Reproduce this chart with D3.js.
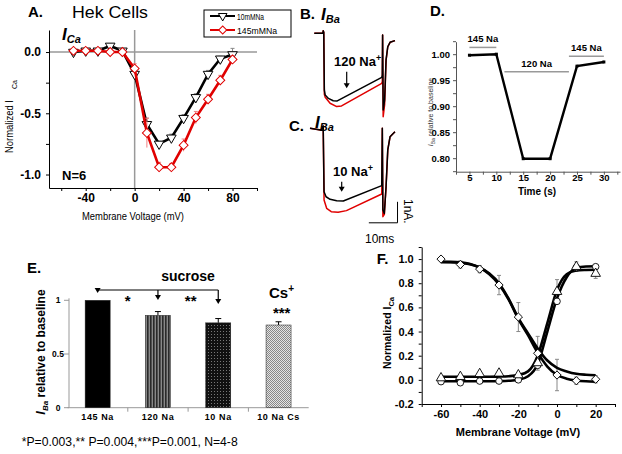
<!DOCTYPE html>
<html><head><meta charset="utf-8">
<script src="https://cdn.jsdelivr.net/npm/d3@7"></script>
<style>body{margin:0;background:#fff}svg{display:block}text{font-family:"Liberation Sans",Arial,sans-serif}</style>
</head><body>
<script>
// ---------- DATA ----------
// Panel A: I-V relationship
const voltsA = [-50,-40,-30,-20,-10,0,10,20,30,40,50,60,70,80];
const na10  = [0.0,0.01,0.01,0.05,0.01,-0.18,-0.59,-0.75,-0.70,-0.54,-0.37,-0.18,-0.055,-0.02];
const na10Err = [0.01,0.01,0.01,0.01,0.01,0.04,0.05,0.02,0.03,0.03,0.03,0.03,0.02,0.05];
const na145 = [0.01,0.01,0.01,0.0,0.0,-0.135,-0.66,-0.94,-0.94,-0.76,-0.535,-0.385,-0.23,-0.06];
const na145Err = [0.01,0.01,0.01,0.01,0.01,0.04,0.12,0.04,0.03,0.05,0.05,0.04,0.04,0.03];
const legendA = ["10mMNa","145mMNa"];
const ticksAx = [-60,-40,-20,0,20,40,60,80,100];
const labelsAx = [-40,0,40,80];
const ticksAy = [-1,-0.75,-0.5,-0.25,0];

// Panels B, C: current traces [time ms, current nA]
const traceB_10 = [[0,0],[3.0,0],[3.1,0.12],[3.3,0.05],[3.5,-2.7],[3.8,-2.94],[4.9,-3.1],[6.6,-3.21],[8.0,-3.22],[23.5,-2.1],[23.7,-2.0],[23.8,-0.08],[24.0,-3.65],[24.5,-3.18],[25.0,-1.27],[25.6,-0.64],[26.4,-0.43],[28.1,-0.35]];
const traceB_145 = [[0,0],[3.0,0],[3.1,0.12],[3.3,0.05],[3.5,-2.9],[3.8,-3.05],[5.5,-3.33],[7.8,-3.49],[9.5,-3.46],[23.5,-2.38],[23.7,-2.3],[23.8,-0.08],[24.0,-3.97],[24.5,-3.4],[25.0,-1.3],[25.6,-0.64],[26.4,-0.43],[28.1,-0.35]];
const traceC_10 = [[-1.5,0],[2.2,-0.08],[2.9,0],[3.1,0.11],[3.4,-3.02],[4.1,-3.26],[5.5,-3.38],[7.8,-3.45],[10.1,-3.46],[23.5,-2.73],[23.7,0],[23.9,-3.89],[24.4,-4.05],[25.0,-2.78],[25.6,-1.03],[26.4,-0.4],[28.1,-0.16]];
const traceC_145 = [[-1.5,0],[2.2,-0.08],[2.9,0],[3.1,0.11],[3.4,-3.41],[4.3,-3.81],[5.9,-3.97],[8.3,-4.0],[11.2,-3.92],[23.5,-3.13],[23.7,0],[23.9,-4.21],[24.4,-4.1],[25.0,-2.8],[25.6,-1.03],[26.4,-0.4],[28.1,-0.16]];
const scaleBarMs = 10, scaleBarNA = 1;

// Panel D: time course
const timeD = [5,10,15,20,25,30];
const relD = [0.998,1.000,0.799,0.799,0.977,0.985];
const ticksDx = [5,10,15,20,25,30];
const ticksDy = [0.80,0.85,0.90,0.95,1.00];
const annotD = [{t:"145 Na",a:5,b:10,v:1.013},{t:"120 Na",a:11.5,b:23.5,v:0.966},{t:"145 Na",a:23.5,b:30,v:0.996}];

// Panel E: bars
const catsE = ["145 Na","120 Na","10 Na","10 Na Cs"];
const valsE = [1.0,0.86,0.79,0.77];
const errE = [0,0.035,0.04,0.03];
const ticksEy = [0,0.5,1];

// Panel F: activation / inactivation
const voltsF = [-60,-50,-40,-30,-20,-10,0,10,20];
const inactPts = [1.0,0.955,0.917,0.785,0.52,0.22,0.04,-0.007,0.005];
const inactErr = [0.01,0.03,0.03,0.08,0.12,0.14,0.13,0.03,0.03];
const actTri = [0.015,0.026,0.05,0.054,0.04,0.14,0.73,0.937,0.88];
const actTriErr = [0.01,0.01,0.01,0.01,0.01,0.03,0.1,0.04,0.04];
const actCir = [-0.015,-0.024,-0.01,-0.01,0.0,0.12,0.65,0.93,0.937];
const curveV = [-60,-55,-50,-45,-40,-35,-30,-25,-20,-15,-10,-5,0,5,10,15,20];
const inactFit1 = [0.978,0.977,0.973,0.96,0.932,0.88,0.80,0.67,0.51,0.385,0.26,0.16,0.10,0.07,0.05,0.042,0.038];
const inactFit2 = [0.975,0.974,0.97,0.957,0.928,0.875,0.79,0.665,0.505,0.37,0.225,0.11,0.04,0.01,-0.005,-0.012,-0.015];
const actFitT = [0.026,0.026,0.026,0.026,0.026,0.026,0.027,0.03,0.04,0.07,0.20,0.47,0.745,0.875,0.905,0.91,0.912];
const actFitC = [-0.012,-0.012,-0.012,-0.012,-0.012,-0.012,-0.011,-0.008,0.0,0.03,0.13,0.40,0.675,0.85,0.925,0.938,0.94];
const ticksFx = [-70,-60,-50,-40,-30,-20,-10,0,10,20,30];
const ticksFy = [-0.2,-0.1,0,0.1,0.2,0.3,0.4,0.5,0.6,0.7,0.8,0.9,1.0,1.1];

// ---------- DRAW ----------
const svg = d3.select("body").append("svg").attr("width",622).attr("height",454);
const F = "'Liberation Sans',Arial,sans-serif";
const fmtHy = f => v => f(v).replace("\u2212","-");

function txt(x,y,s,o={}){
  const t = svg.append("text").attr("x",x).attr("y",y).text(s)
    .attr("font-size",o.size||12).attr("font-weight",o.bold?"bold":"normal")
    .attr("font-style",o.italic?"italic":"normal").attr("fill",o.fill||"#000")
    .attr("text-anchor",o.anchor||"start");
  if(o.len) t.attr("textLength",o.len).attr("lengthAdjust","spacingAndGlyphs");
  return t;
}
const sym = (type,size)=>d3.symbol().type(type).size(size)();

// ===== Panel A =====
const xA = d3.scaleLinear([-70,100],[49,257]);
const yA = d3.scaleLinear([-1.11,0.18],[188,30]);
const gA = svg.append("g");
gA.append("line").attr("x1",xA(0)).attr("x2",xA(0)).attr("y1",yA.range()[1]).attr("y2",yA.range()[0]).attr("stroke","#999").attr("stroke-width",1.5);
gA.append("line").attr("x1",xA.range()[0]).attr("x2",xA.range()[1]).attr("y1",yA(0)).attr("y2",yA(0)).attr("stroke","#999").attr("stroke-width",1.5);
const axAx = gA.append("g").attr("transform",`translate(0,${yA.range()[0]})`)
  .call(d3.axisBottom(xA).tickValues(ticksAx).tickSize(3).tickSizeOuter(0).tickFormat(d=>labelsAx.includes(d)?String(d):""));
const axAy = gA.append("g").attr("transform",`translate(${xA.range()[0]},0)`)
  .call(d3.axisLeft(yA).tickValues(ticksAy).tickSize(3).tickSizeOuter(0).tickFormat(d=>[0,-0.5,-1].includes(d)?fmtHy(d3.format(".1f"))(d):""));
[axAx,axAy].forEach(a=>{a.selectAll("text").attr("font-family",F).attr("font-size",12).attr("font-weight","bold").attr("fill","#000");a.select(".domain").attr("stroke","#000");});
axAx.selectAll("text").attr("dy","0.66em");
axAy.selectAll("text").attr("dx","-2");

function seriesA(vals,errs,color,errColor,symType,rot){
  const line = d3.line().x((d,i)=>xA(voltsA[i])).y(d=>yA(d));
  gA.append("g").selectAll("line").data(vals).join("line")
    .attr("x1",(d,i)=>xA(voltsA[i])).attr("x2",(d,i)=>xA(voltsA[i]))
    .attr("y1",(d,i)=>yA(d-errs[i])).attr("y2",(d,i)=>yA(d+errs[i])).attr("stroke",errColor).attr("stroke-width",1);
  gA.append("g").selectAll("line").data(vals).join("line")
    .attr("x1",(d,i)=>xA(voltsA[i])-2).attr("x2",(d,i)=>xA(voltsA[i])+2)
    .attr("y1",(d,i)=>yA(d+errs[i])).attr("y2",(d,i)=>yA(d+errs[i])).attr("stroke",errColor).attr("stroke-width",1);
  gA.append("path").datum(vals).attr("d",line).attr("fill","none").attr("stroke",color).attr("stroke-width",2.6);
  gA.append("g").selectAll("path").data(vals).join("path").attr("d",sym(symType,40))
    .attr("transform",(d,i)=>`translate(${xA(voltsA[i])},${yA(d)}) rotate(${rot})`)
    .attr("fill","#fff").attr("stroke",color).attr("stroke-width",1);
}
seriesA(na10,na10Err,"#000","#888",d3.symbolTriangle,180);
seriesA(na145,na145Err,"#e00000","#f08080",d3.symbolSquare,45);

// legend A
gA.append("rect").attr("x",204).attr("y",10).attr("width",87).attr("height",27).attr("fill","#fff").attr("stroke","#000").attr("stroke-width",1);
[[legendA[0],"#000",d3.symbolTriangle,180,16],[legendA[1],"#e00000",d3.symbolSquare,45,30]].forEach(([lab,c,s,r,y])=>{
  gA.append("line").attr("x1",210).attr("x2",235).attr("y1",y).attr("y2",y).attr("stroke",c).attr("stroke-width",2);
  gA.append("path").attr("d",sym(s,32)).attr("transform",`translate(222.7,${y}) rotate(${r})`).attr("fill","#fff").attr("stroke",c);
  txt(237,y+3.5,lab,{size:9.5,len:lab.length>6?40:27});
});
txt(28,17,"A.",{size:15,bold:true});
txt(72,18,"Hek Cells",{size:17,len:76});
const ica = txt(62,40,"I",{size:17,bold:true,italic:true});
ica.append("tspan").attr("dy",3).attr("font-size",11).text("Ca");
txt(62,180,"N=6",{size:13,bold:true});
txt(133,220,"Membrane Voltage (mV)",{size:11,anchor:"middle",len:102});
const ylA = svg.append("text").attr("transform","translate(13,153) rotate(-90)").attr("font-size",10.5);
ylA.append("tspan").text("Normalized I").attr("textLength",53).attr("lengthAdjust","spacingAndGlyphs");
ylA.append("tspan").attr("dx",11).attr("dy",4).attr("font-size",7).text("Ca");

// ===== Panels B, C =====
const xT = d3.scaleLinear([0,10],[314.3,343]);
const yB = d3.scaleLinear([0,-1],[33.3,54.3]);
const yC = d3.scaleLinear([0,-1],[128.3,149.3]);
function trace(data,ys,color){
  svg.append("path").datum(data).attr("d",d3.line().x(d=>xT(d[0])).y(d=>ys(d[1])))
    .attr("fill","none").attr("stroke",color).attr("stroke-width",1.5).attr("stroke-linejoin","round");
}
trace(traceB_145,yB,"#e00000"); trace(traceB_10,yB,"#000");
trace(traceC_145,yC,"#e00000"); trace(traceC_10,yC,"#000");
// scale bar
svg.append("path").attr("d",d3.line()([[xT(19),yC(-4.5)],[xT(19+scaleBarMs),yC(-4.5)],[xT(19+scaleBarMs),yC(-4.5+scaleBarNA)]]))
  .attr("fill","none").attr("stroke","#000").attr("stroke-width",1);
svg.append("text").attr("transform","translate(404,199) rotate(90)").attr("font-size",12).text("1nA.");
txt(365,243,"10ms",{size:12});
txt(300,19,"B.",{size:15,bold:true});
const iba1 = txt(321,20,"I",{size:17,bold:true,italic:true}); iba1.append("tspan").attr("dy",3).attr("font-size",11).text("Ba");
txt(289,130.5,"C.",{size:15,bold:true});
const iba2 = txt(315,128,"I",{size:17,bold:true,italic:true}); iba2.append("tspan").attr("dy",3).attr("font-size",11).text("Ba");
const t120 = txt(334,66,"120 Na",{size:13,bold:true}); t120.append("tspan").attr("dy",-5).attr("font-size",9).text("+");
const t10 = txt(333,176,"10 Na",{size:13,bold:true}); t10.append("tspan").attr("dy",-5).attr("font-size",9).text("+");
function arrow(x,y1,y2){
  svg.append("line").attr("x1",x).attr("x2",x).attr("y1",y1).attr("y2",y2-4).attr("stroke","#000").attr("stroke-width",1.2);
  svg.append("path").attr("d",`M${x-3},${y2-5}L${x+3},${y2-5}L${x},${y2}Z`).attr("fill","#000");
}
arrow(346.7,71.7,88.3); arrow(341.7,181.7,191.7);

// ===== Panel D =====
const xD = d3.scaleLinear([2.5,33],[456,620]);
const yD = d3.scaleLinear([0.774,1.024],[171.7,41.7]);
const gD = svg.append("g");
const dAx = gD.append("g").attr("transform",`translate(0,${yD.range()[0]})`)
  .call(d3.axisBottom(xD).tickValues(d3.range(2.5,33.1,2.5)).tickSize(3).tickSizeOuter(0).tickFormat(d=>ticksDx.includes(d)?d:""));
const dAy = gD.append("g").attr("transform",`translate(${xD.range()[0]},0)`)
  .call(d3.axisLeft(yD).tickValues(d3.range(0.775,1.0251,0.025)).tickSize(3).tickSizeOuter(0).tickFormat(d=>ticksDy.some(v=>Math.abs(v-d)<1e-6)?d3.format(".2f")(d):""));
[dAx,dAy].forEach(a=>{a.selectAll("text").attr("font-family",F).attr("font-size",9.5).attr("font-weight","bold").attr("fill","#000");a.selectAll("line,path").attr("stroke","#555");});
dAx.selectAll("text").attr("dy","0.4em");
gD.append("path").datum(relD).attr("d",d3.line().x((d,i)=>xD(timeD[i])).y(d=>yD(d))).attr("fill","none").attr("stroke","#000").attr("stroke-width",2.4);
gD.selectAll(".mk").data(relD).join("rect").attr("x",(d,i)=>xD(timeD[i])-1.5).attr("y",d=>yD(d)-1.5).attr("width",3).attr("height",3).attr("fill","#000");
annotD.forEach(a=>{
  gD.append("line").attr("x1",xD(a.a)).attr("x2",xD(a.b)).attr("y1",yD(a.v)).attr("y2",yD(a.v)).attr("stroke","#999").attr("stroke-width",1.5);
  txt((xD(a.a)+xD(a.b))/2,yD(a.v)-5,a.t,{size:9.5,bold:true,anchor:"middle"});
});
txt(537,195,"Time (s)",{size:10,bold:true,anchor:"middle"});
txt(430,16,"D.",{size:15,bold:true});
const ylD = svg.append("text").attr("transform","translate(433,112) rotate(-90)").attr("font-size",7).attr("text-anchor","middle").attr("fill","#333");
ylD.append("tspan").attr("font-style","italic").text("I");
ylD.append("tspan").attr("font-size",5).attr("dy",1.5).text("Ba");
ylD.append("tspan").attr("dy",-1.5).text(" relative to baseline");

// ===== Panel E =====
const defs = svg.append("defs");
const p1 = defs.append("pattern").attr("id","stripes").attr("patternUnits","userSpaceOnUse").attr("width",3).attr("height",3);
p1.append("rect").attr("width",3).attr("height",3).attr("fill","#888");
p1.append("rect").attr("width",1.6).attr("height",3).attr("fill","#2a2a2a");
const p2 = defs.append("pattern").attr("id","dots").attr("patternUnits","userSpaceOnUse").attr("width",3).attr("height",3);
p2.append("rect").attr("width",3).attr("height",3).attr("fill","#111");
p2.append("rect").attr("x",1).attr("y",1).attr("width",1).attr("height",1).attr("fill","#777");
const p3 = defs.append("pattern").attr("id","checks").attr("patternUnits","userSpaceOnUse").attr("width",2).attr("height",2);
p3.append("rect").attr("width",2).attr("height",2).attr("fill","#e4e4e4");
p3.append("rect").attr("width",1).attr("height",1).attr("fill","#888");
p3.append("rect").attr("x",1).attr("y",1).attr("width",1).attr("height",1).attr("fill","#888");
const fillsE = ["#000","url(#stripes)","url(#dots)","url(#checks)"];

const xE = d3.scaleBand(catsE,[67.5,308.7]).paddingInner(0.585).paddingOuter(0.2925);
const yE = d3.scaleLinear([0,1],[407.7,300.3]);
const gE = svg.append("g");
gE.append("line").attr("x1",69).attr("x2",69).attr("y1",yE(1)-2).attr("y2",yE(0)).attr("stroke","#999");
gE.append("line").attr("x1",67.5).attr("x2",308.7).attr("y1",yE(0)).attr("y2",yE(0)).attr("stroke","#999");
gE.selectAll(".yt").data(ticksEy).join("line").attr("x1",64).attr("x2",69).attr("y1",d=>yE(d)).attr("y2",d=>yE(d)).attr("stroke","#999");
gE.selectAll(".yl").data(ticksEy).join("text").attr("x",58).attr("y",d=>yE(d)+3).attr("text-anchor","middle").attr("font-size",8.5).attr("font-weight","bold").text(d=>d);
gE.selectAll(".xt").data(catsE.slice(1)).join("line").attr("x1",d=>xE(d)-xE.step()*xE.paddingInner()/2).attr("x2",d=>xE(d)-xE.step()*xE.paddingInner()/2).attr("y1",yE(0)).attr("y2",yE(0)+4).attr("stroke","#999");
gE.selectAll(".xl").data(catsE).join("text").attr("x",d=>xE(d)+xE.bandwidth()/2).attr("y",420).attr("text-anchor","middle").attr("font-size",9).attr("font-weight","bold").attr("letter-spacing",0.6).text(d=>d);
gE.selectAll(".eb").data(catsE).join("line").attr("x1",d=>xE(d)+xE.bandwidth()/2).attr("x2",d=>xE(d)+xE.bandwidth()/2)
  .attr("y1",(d,i)=>yE(valsE[i])).attr("y2",(d,i)=>yE(valsE[i]+errE[i])).attr("stroke","#000");
gE.selectAll(".ec").data(catsE.filter((d,i)=>errE[i]>0)).join("line").attr("x1",d=>xE(d)+xE.bandwidth()/2-3).attr("x2",d=>xE(d)+xE.bandwidth()/2+3)
  .attr("y1",d=>yE(valsE[catsE.indexOf(d)]+errE[catsE.indexOf(d)])).attr("y2",d=>yE(valsE[catsE.indexOf(d)]+errE[catsE.indexOf(d)])).attr("stroke","#000");
gE.selectAll(".bar").data(catsE).join("rect").attr("x",d=>xE(d)).attr("width",xE.bandwidth())
  .attr("y",(d,i)=>yE(valsE[i])).attr("height",(d,i)=>yE(0)-yE(valsE[i])).attr("fill",(d,i)=>fillsE[i]).attr("stroke","#222").attr("stroke-width",0.5);
// bracket with arrows
const cE = d=>xE(d)+xE.bandwidth()/2;
gE.append("line").attr("x1",cE(catsE[0])).attr("x2",cE(catsE[2])).attr("y1",290).attr("y2",290).attr("stroke","#000").attr("stroke-width",1.2);
[[catsE[0],293],[catsE[1],300],[catsE[2],304]].forEach(([c,tip])=>{
  const x=cE(c);
  gE.append("line").attr("x1",x).attr("x2",x).attr("y1",290).attr("y2",tip-3).attr("stroke","#000").attr("stroke-width",1.2);
  gE.append("path").attr("d",`M${x-3},${tip-5}L${x+3},${tip-5}L${x},${tip}Z`).attr("fill","#000");
});
txt(127.7,306,"*",{size:15,bold:true,anchor:"middle"});
txt(190.7,306,"**",{size:15,bold:true,anchor:"middle"});
txt(281.7,318,"***",{size:15,bold:true,anchor:"middle"});
txt(188,281,"sucrose",{size:14,bold:true,anchor:"middle"});
const cs = txt(269,298,"Cs",{size:15,bold:true}); cs.append("tspan").attr("dy",-6).attr("font-size",10).text("+");
txt(27,273,"E.",{size:15,bold:true});
const ylE = svg.append("text").attr("transform","translate(45,352) rotate(-90)").attr("text-anchor","middle").attr("font-size",12).attr("font-weight","bold");
ylE.append("tspan").attr("font-style","italic").attr("font-size",13).text("I");
ylE.append("tspan").attr("font-style","italic").attr("font-size",8).attr("dy",3).text("Ba");
ylE.append("tspan").attr("dy",-3).text(" relative to baseline");
txt(21.7,446,"*P=0.003,** P=0.004,***P=0.001, N=4-8",{size:12,len:216});

// ===== Panel F =====
const xF = d3.scaleLinear([-70,30],[421.7,615]);
const yF = d3.scaleLinear([-0.2,1.1],[404,247]);
const gF = svg.append("g");
const fAx = gF.append("g").attr("transform",`translate(0,${yF.range()[0]})`)
  .call(d3.axisBottom(xF).tickValues(ticksFx).tickSize(3).tickSizeOuter(0).tickFormat(d=>d%20===0&&d>=-60&&d<=20?fmtHy(d3.format("d"))(d):""));
const fAy = gF.append("g").attr("transform",`translate(${xF.range()[0]},0)`)
  .call(d3.axisLeft(yF).tickValues(ticksFy).tickSize(3).tickSizeOuter(0).tickFormat(d=>{const r=Math.round(d*10);return r%2===0&&r<=10?fmtHy(d3.format(".1f"))(d):"";}));
[fAx,fAy].forEach(a=>{a.selectAll("text").attr("font-family",F).attr("font-size",11).attr("font-weight","bold").attr("fill","#000");a.selectAll("line,path").attr("stroke","#000");});
fAx.selectAll("text").attr("dy","0.7em");
fAy.selectAll("text").attr("dx","-2");
function errF(vals,errs){
  gF.append("g").selectAll("line").data(vals).join("line").attr("x1",(d,i)=>xF(voltsF[i])).attr("x2",(d,i)=>xF(voltsF[i]))
    .attr("y1",(d,i)=>yF(d-errs[i])).attr("y2",(d,i)=>yF(d+errs[i])).attr("stroke","#888").attr("stroke-width",1);
  gF.append("g").selectAll("line").data(vals).join("line").attr("x1",(d,i)=>xF(voltsF[i])-2).attr("x2",(d,i)=>xF(voltsF[i])+2)
    .attr("y1",(d,i)=>yF(d+errs[i])).attr("y2",(d,i)=>yF(d+errs[i])).attr("stroke","#888");
  gF.append("g").selectAll("line").data(vals).join("line").attr("x1",(d,i)=>xF(voltsF[i])-2).attr("x2",(d,i)=>xF(voltsF[i])+2)
    .attr("y1",(d,i)=>yF(d-errs[i])).attr("y2",(d,i)=>yF(d-errs[i])).attr("stroke","#888");
}
errF(inactPts,inactErr); errF(actTri,actTriErr);
const lineF = d3.line().x((d,i)=>xF(curveV[i])).y(d=>yF(d)).curve(d3.curveMonotoneX);
[inactFit1,inactFit2,actFitT,actFitC].forEach(c=>gF.append("path").datum(c).attr("d",lineF).attr("fill","none").attr("stroke","#000").attr("stroke-width",2.6));
function ptsF(vals,type,size,rot){
  gF.append("g").selectAll("path").data(vals).join("path").attr("d",sym(type,size))
    .attr("transform",(d,i)=>`translate(${xF(voltsF[i])},${yF(d)}) rotate(${rot})`).attr("fill","#fff").attr("stroke","#000").attr("stroke-width",0.9);
}
ptsF(actCir,d3.symbolCircle,34,0);
ptsF(actTri,d3.symbolTriangle,40,0);
ptsF(inactPts,d3.symbolSquare,34,45);
txt(518,436,"Membrane Voltage (mV)",{size:11,bold:true,anchor:"middle"});
txt(376.7,263.5,"F.",{size:15,bold:true});
const ylF = svg.append("text").attr("transform","translate(391,333) rotate(-90)").attr("text-anchor","middle").attr("font-size",10.5).attr("font-weight","bold");
ylF.append("tspan").text("Normalized I");
ylF.append("tspan").attr("font-size",7.5).attr("dy",3).text("Ca");
</script>
</body></html>
